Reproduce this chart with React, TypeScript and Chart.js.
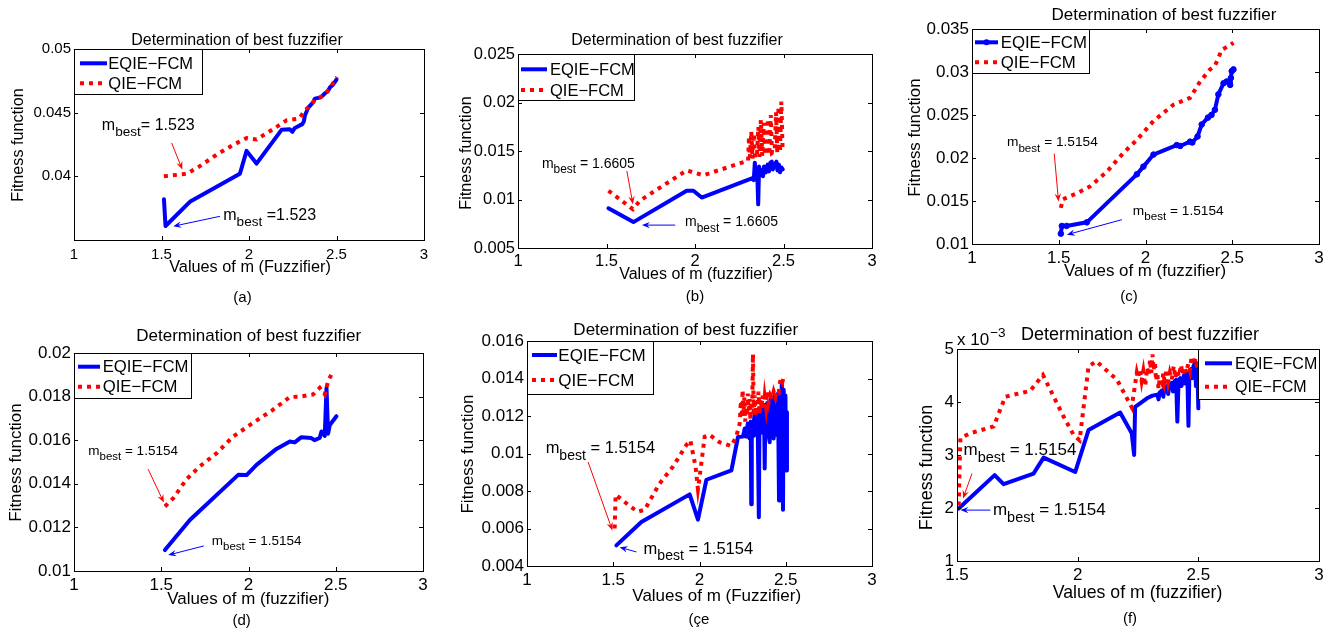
import React, { useEffect, useRef } from "react";
import { Chart, registerables } from "chart.js";

Chart.register(...registerables);

const W = 1340;
const H = 635;
const YW = 60;
const XH = 30;
const FONT = '"Liberation Sans", Arial, Helvetica, sans-serif';
const BLUE = "#0000ff";
const RED = "#ff0000";
const SERIES_LABELS = ["EQIE\u2212FCM", "QIE\u2212FCM"];
const TITLE = "Determination of best fuzzifier";
const Y_LABEL = "Fitness function";

// ---------- Panel (a) ----------
const aEqX = [1.514, 1.523, 1.662, 1.948, 1.986, 2.043, 2.186, 2.233, 2.248, 2.262, 2.29, 2.305, 2.313, 2.32, 2.339, 2.366, 2.376, 2.41, 2.433, 2.451, 2.463, 2.48, 2.5];
const aEqY = [0.0382, 0.0361, 0.038, 0.0402, 0.042, 0.041, 0.04365, 0.0437, 0.0435, 0.0438, 0.044, 0.0441, 0.0443, 0.0448, 0.0454, 0.0458, 0.0461, 0.0462, 0.0465, 0.0467, 0.047, 0.0472, 0.0476];
const aQiX = [1.514, 1.643, 1.719, 1.815, 1.91, 1.986, 2.043, 2.138, 2.214, 2.272, 2.29, 2.32, 2.347, 2.376, 2.433, 2.461, 2.503];
const aQiY = [0.04, 0.0402, 0.0408, 0.0417, 0.04247, 0.043, 0.0429, 0.0437, 0.0444, 0.0445, 0.0446, 0.0452, 0.0455, 0.046, 0.0464, 0.0469, 0.0478];
const aXTicks = [1, 1.5, 2, 2.5, 3];
const aYTicks = [0.04, 0.045, 0.05];

// ---------- Panel (b) ----------
const bEqX = [1.511, 1.652, 1.953, 1.991, 2.038, 2.31, 2.325, 2.332, 2.338, 2.344, 2.352, 2.357, 2.362, 2.37, 2.378, 2.384, 2.39, 2.4, 2.41, 2.418, 2.426, 2.434, 2.44, 2.45, 2.46, 2.466, 2.474, 2.48, 2.488, 2.496];
const bEqY = [0.0091, 0.00767, 0.0109, 0.0109, 0.0102, 0.0121, 0.0122, 0.012, 0.0138, 0.0123, 0.0126, 0.0095, 0.0134, 0.0125, 0.013, 0.0124, 0.0134, 0.0128, 0.0136, 0.0129, 0.0138, 0.0139, 0.0131, 0.0136, 0.0139, 0.013, 0.0136, 0.0128, 0.0133, 0.0131];
const bQiX = [1.511, 1.649, 1.69, 1.953, 2.047, 2.3, 2.305, 2.31, 2.318, 2.325, 2.333, 2.34, 2.35, 2.358, 2.364, 2.372, 2.38, 2.388, 2.395, 2.405, 2.412, 2.42, 2.428, 2.435, 2.45, 2.458, 2.465, 2.472, 2.48, 2.488, 2.495];
const bQiY = [0.0109, 0.009, 0.0099, 0.013, 0.0125, 0.014, 0.0165, 0.0143, 0.017, 0.0142, 0.0168, 0.0143, 0.0145, 0.0175, 0.0144, 0.0182, 0.0145, 0.0179, 0.0146, 0.015, 0.0183, 0.0146, 0.0187, 0.0148, 0.015, 0.019, 0.0148, 0.0196, 0.0149, 0.0201, 0.015];
const bXTicks = [1, 1.5, 2, 2.5, 3];
const bYTicks = [0.005, 0.01, 0.015, 0.02, 0.025];

// ---------- Panel (c) ----------
const cEqX = [1.512, 1.518, 1.545, 1.662, 1.95, 1.988, 2.046, 2.18, 2.2, 2.257, 2.27, 2.3, 2.324, 2.36, 2.38, 2.4, 2.42, 2.45, 2.468, 2.488, 2.492, 2.497, 2.507];
const cEqY = [0.0112, 0.0121, 0.0121, 0.01252, 0.0181, 0.019, 0.0204, 0.0215, 0.0214, 0.0219, 0.0218, 0.0225, 0.0239, 0.0247, 0.025, 0.0256, 0.0274, 0.0287, 0.0289, 0.0285, 0.0293, 0.0301, 0.0303];
const cQiX = [1.512, 1.524, 1.605, 1.681, 1.777, 1.873, 1.95, 2.046, 2.161, 2.257, 2.315, 2.372, 2.4, 2.44, 2.478, 2.507];
const cQiY = [0.0142, 0.0152, 0.0159, 0.0167, 0.0184, 0.0206, 0.0221, 0.0243, 0.0262, 0.027, 0.0289, 0.0303, 0.0307, 0.0326, 0.033, 0.0334];
const cXTicks = [1, 1.5, 2, 2.5, 3];
const cYTicks = [0.01, 0.015, 0.02, 0.025, 0.03, 0.035];

// ---------- Panel (d) ----------
const dEqX = [1.521, 1.664, 1.941, 1.989, 2.046, 2.16, 2.237, 2.265, 2.303, 2.36, 2.378, 2.408, 2.418, 2.437, 2.447, 2.456, 2.466, 2.504];
const dEqY = [0.01096, 0.01234, 0.01441, 0.0144, 0.01487, 0.0156, 0.01594, 0.0159, 0.01614, 0.0161, 0.016, 0.0161, 0.0164, 0.0162, 0.01839, 0.0163, 0.0167, 0.0171];
const dQiX = [1.521, 1.569, 1.645, 1.721, 1.817, 1.912, 2.027, 2.141, 2.237, 2.294, 2.37, 2.408, 2.437, 2.456, 2.48];
const dQiY = [0.01296, 0.01334, 0.01421, 0.0148, 0.0154, 0.01617, 0.0168, 0.0174, 0.01798, 0.018, 0.0181, 0.0184, 0.0181, 0.0187, 0.0191];
const dXTicks = [1, 1.5, 2, 2.5, 3];
const dYTicks = [0.01, 0.012, 0.014, 0.016, 0.018, 0.02];

// ---------- Panel (e) ----------
const eEqX = [1.518, 1.663, 1.943, 1.991, 2.04, 2.185, 2.223, 2.252, 2.262, 2.27, 2.28, 2.29, 2.297, 2.3, 2.303, 2.31, 2.318, 2.325, 2.332, 2.338, 2.344, 2.348, 2.355, 2.362, 2.368, 2.374, 2.378, 2.382, 2.388, 2.394, 2.4, 2.407, 2.412, 2.418, 2.424, 2.43, 2.436, 2.442, 2.448, 2.455, 2.461, 2.466, 2.472, 2.477, 2.481, 2.484, 2.488, 2.493, 2.498, 2.503, 2.507];
const eEqY = [0.0051, 0.00635, 0.00782, 0.00647, 0.0086, 0.0091, 0.01088, 0.0109, 0.01133, 0.0109, 0.0116, 0.0108, 0.0117, 0.0073, 0.0117, 0.0109, 0.012, 0.011, 0.0121, 0.0111, 0.0066, 0.0122, 0.0112, 0.0124, 0.0111, 0.0125, 0.0092, 0.0126, 0.0112, 0.0127, 0.011, 0.0106, 0.0129, 0.0113, 0.013, 0.0108, 0.0131, 0.011, 0.0128, 0.0132, 0.0075, 0.0133, 0.0112, 0.0138, 0.012, 0.007, 0.0134, 0.0112, 0.0131, 0.0091, 0.0122];
const eQiX = [1.508, 1.514, 1.595, 1.643, 1.682, 1.769, 1.846, 1.923, 1.947, 1.977, 1.991, 2.0, 2.03, 2.058, 2.116, 2.185, 2.213, 2.233, 2.24, 2.245, 2.25, 2.255, 2.26, 2.265, 2.27, 2.275, 2.28, 2.285, 2.29, 2.295, 2.3, 2.305, 2.31, 2.314, 2.32, 2.325, 2.33, 2.336, 2.342, 2.348, 2.355, 2.36, 2.366, 2.372, 2.378, 2.385, 2.392, 2.4, 2.41, 2.42, 2.43, 2.44, 2.45, 2.46, 2.47, 2.48, 2.49, 2.5];
const eQiY = [0.006, 0.0078, 0.0072, 0.0069, 0.007, 0.0084, 0.0093, 0.01044, 0.0107, 0.0093, 0.0081, 0.0087, 0.0109, 0.011, 0.0106, 0.0104, 0.0109, 0.0116, 0.0128, 0.0119, 0.0134, 0.0121, 0.013, 0.0117, 0.0127, 0.012, 0.0132, 0.0123, 0.0129, 0.0118, 0.0126, 0.0121, 0.0153, 0.0122, 0.0131, 0.012, 0.0128, 0.0123, 0.0133, 0.0121, 0.0129, 0.0124, 0.0131, 0.0123, 0.013, 0.0125, 0.0133, 0.0127, 0.0131, 0.0129, 0.0133, 0.013, 0.0134, 0.0133, 0.014, 0.0138, 0.0141, 0.014];
const eXTicks = [1, 1.5, 2, 2.5, 3];
const eYTicks = [0.004, 0.006, 0.008, 0.01, 0.012, 0.014, 0.016];

// ---------- Panel (f) (values in units of 1e-3) ----------
const fEqX = [1.507, 1.656, 1.693, 1.817, 1.859, 1.99, 2.045, 2.176, 2.224, 2.234, 2.238, 2.26, 2.287, 2.31, 2.33, 2.335, 2.34, 2.35, 2.355, 2.36, 2.37, 2.375, 2.38, 2.39, 2.395, 2.4, 2.408, 2.413, 2.418, 2.425, 2.43, 2.44, 2.445, 2.45, 2.455, 2.459, 2.463, 2.47, 2.475, 2.48, 2.487, 2.49, 2.496, 2.5];
const fEqY = [1.99, 2.62, 2.45, 2.65, 2.95, 2.68, 3.47, 3.8, 3.41, 3.0, 3.91, 3.98, 4.07, 4.12, 4.14, 4.05, 4.18, 4.22, 4.1, 4.28, 4.3, 4.15, 4.33, 4.36, 4.2, 4.38, 4.42, 3.63, 4.4, 4.45, 4.3, 4.5, 4.35, 4.55, 4.4, 3.55, 4.58, 4.62, 4.45, 4.68, 4.75, 4.3, 4.7, 3.88];
const fQiX = [1.507, 1.514, 1.555, 1.652, 1.7, 1.803, 1.856, 1.941, 1.983, 2.008, 2.045, 2.077, 2.163, 2.224, 2.245, 2.25, 2.258, 2.265, 2.272, 2.28, 2.288, 2.295, 2.3, 2.305, 2.31, 2.315, 2.32, 2.325, 2.33, 2.335, 2.34, 2.35, 2.355, 2.36, 2.368, 2.375, 2.382, 2.39, 2.398, 2.405, 2.412, 2.42, 2.428, 2.435, 2.442, 2.45, 2.458, 2.465, 2.472, 2.48, 2.488, 2.495, 2.5];
const fQiY = [2.05, 3.32, 3.41, 3.54, 4.1, 4.21, 4.51, 3.73, 3.38, 3.28, 4.67, 4.77, 4.42, 3.9, 4.55, 4.45, 4.62, 4.4, 4.58, 4.3, 4.65, 4.5, 4.8, 4.55, 4.9, 4.6, 4.75, 4.4, 4.55, 4.25, 4.45, 4.35, 4.55, 4.4, 4.62, 4.38, 4.55, 4.42, 4.68, 4.45, 4.6, 4.48, 4.7, 4.52, 4.66, 4.55, 4.72, 4.6, 4.86, 4.7, 4.82, 4.65, 4.75];
const fXTicks = [1.5, 2, 2.5, 3];
const fYTicks = [1, 2, 3, 4, 5];

const fmt = (v: number) => String(parseFloat(Number(v).toFixed(6)));

const panels: any[] = [
  {
    key: "a", L: 74, T: 49, R: 424, B: 240,
    xRange: [1, 3], yRange: [0.035, 0.05], xTicks: aXTicks, yTicks: aYTicks,
    eq: [aEqX, aEqY], qi: [aQiX, aQiY],
    tickSize: 15, xTickPad: 6,
    title: { x: 237, y: 41, size: 16 },
    xLabel: { text: "Values of m (Fuzzifier)", x: 250, y: 268, size: 16.3 },
    yLabel: { x: 18.5, y: 145, size: 16.2 },
    caption: { text: "(a)", x: 242.5, y: 298, size: 15 },
    legend: { box: [74, 49, 202, 94], rows: [63.3, 83.3], sample: [80, 107], textX: 108.3, size: 16.5 },
    annSize: 16,
    ann: [
      { color: RED, label: [1.159, 0.04367], tail: [1.558, 0.04262], tip: [1.619, 0.04053], rest: "= 1.523" },
      { color: BLUE, label: [1.853, 0.0366], tail: [1.834, 0.03686], tip: [1.567, 0.03608], rest: " =1.523" },
    ],
  },
  {
    key: "b", L: 518, T: 54, R: 872, B: 248,
    xRange: [1, 3], yRange: [0.005, 0.025], xTicks: bXTicks, yTicks: bYTicks,
    eq: [bEqX, bEqY], qi: [bQiX, bQiY],
    tickSize: 16.5, xTickPad: 4,
    title: { x: 677, y: 41, size: 16 },
    xLabel: { text: "Values of m (fuzzifier)", x: 696, y: 275, size: 16 },
    yLabel: { x: 466.7, y: 153, size: 16.2 },
    caption: { text: "(b)", x: 695, y: 297, size: 15 },
    legend: { box: [518, 54, 634, 100], rows: [69.3, 90], sample: [521, 547], textX: 550, size: 16.5 },
    annSize: 14,
    ann: [
      { color: RED, label: [1.135, 0.01329], tail: [1.615, 0.01294], tip: [1.649, 0.00952], rest: " = 1.6605" },
      { color: BLUE, label: [1.944, 0.00723], tail: [1.888, 0.00736], tip: [1.7, 0.00736], rest: " = 1.6605" },
    ],
  },
  {
    key: "c", L: 972, T: 29, R: 1319, B: 244,
    xRange: [1, 3], yRange: [0.01, 0.035], xTicks: cXTicks, yTicks: cYTicks,
    eq: [cEqX, cEqY], qi: [cQiX, cQiY], eqMarkers: true,
    tickSize: 17, xTickPad: 4,
    title: { x: 1164, y: 15, size: 17 },
    xLabel: { text: "Values of m (fuzzifier)", x: 1145, y: 271.7, size: 16.9 },
    yLabel: { x: 915, y: 137.5, size: 16.9 },
    caption: { text: "(c)", x: 1129, y: 296.7, size: 15 },
    legend: { box: [972, 29, 1089, 73], rows: [42.3, 62.3], sample: [975, 998], textX: 1000.7, size: 16.8 },
    annSize: 13.7,
    ann: [
      { color: RED, label: [1.2016, 0.02135], tail: [1.474, 0.0205], tip: [1.4987, 0.01495], rest: " = 1.5154" },
      { color: BLUE, label: [1.927, 0.01341], tail: [1.864, 0.01283], tip: [1.547, 0.01108], rest: " = 1.5154" },
    ],
  },
  {
    key: "d", L: 74, T: 353, R: 423, B: 571,
    xRange: [1, 3], yRange: [0.01, 0.02], xTicks: dXTicks, yTicks: dYTicks,
    eq: [dEqX, dEqY], qi: [dQiX, dQiY],
    tickSize: 17, xTickPad: 4,
    title: { x: 248.7, y: 336, size: 17 },
    xLabel: { text: "Values of m (fuzzifier)", x: 248.3, y: 599, size: 16.9 },
    yLabel: { x: 16.7, y: 462.5, size: 16.9 },
    caption: { text: "(d)", x: 241.7, y: 620.8, size: 15 },
    legend: { box: [74, 353, 191, 398], rows: [366.7, 386.7], sample: [78, 100], textX: 102.7, size: 16.7 },
    annSize: 13.5,
    ann: [
      { color: RED, label: [1.082, 0.01533], tail: [1.425, 0.01467], tip: [1.515, 0.01314], rest: " = 1.5154" },
      { color: BLUE, label: [1.79, 0.01119], tail: [1.744, 0.01115], tip: [1.54, 0.01073], rest: " = 1.5154" },
    ],
  },
  {
    key: "e", L: 527, T: 341, R: 872, B: 566,
    xRange: [1, 3], yRange: [0.004, 0.016], xTicks: eXTicks, yTicks: eYTicks,
    eq: [eEqX, eEqY], qi: [eQiX, eQiY],
    tickSize: 17, xTickPad: 4,
    title: { x: 685.8, y: 330, size: 17 },
    xLabel: { text: "Values of m (Fuzzifier)", x: 716.7, y: 596.5, size: 17 },
    yLabel: { x: 468, y: 454, size: 17 },
    caption: { text: "(\u00e7e", x: 699, y: 620, size: 15 },
    legend: { box: [527, 341, 653, 394], rows: [355, 380], sample: [532, 557], textX: 558.3, size: 17 },
    annSize: 16.5,
    ann: [
      { color: RED, label: [1.108, 0.01003], tail: [1.354, 0.00955], tip: [1.495, 0.0059], rest: " = 1.5154" },
      { color: BLUE, label: [1.676, 0.00466], tail: [1.634, 0.00475], tip: [1.537, 0.005], rest: " = 1.5154" },
    ],
  },
  {
    key: "f", L: 957, T: 349, R: 1319, B: 561,
    xRange: [1.5, 3], yRange: [1, 5], xTicks: fXTicks, yTicks: fYTicks,
    eq: [fEqX, fEqY], qi: [fQiX, fQiY],
    tickSize: 17, xTickPad: 4,
    title: { x: 1140, y: 335, size: 18 },
    xLabel: { text: "Values of m (fuzzifier)", x: 1137.5, y: 593.3, size: 17.7 },
    yLabel: { x: 926.7, y: 467.5, size: 17.9 },
    caption: { text: "(f)", x: 1130, y: 619, size: 15 },
    legend: { box: [1198, 349, 1319, 399], rows: [363.3, 386.7], sample: [1205, 1232], textX: 1235, size: 16 },
    exponent: { x: 957, y: 345, size: 17 },
    annSize: 17,
    ann: [
      { color: RED, label: [1.527, 3.0], tail: [1.562, 2.65], tip: [1.525, 2.18], rest: " = 1.5154" },
      { color: BLUE, label: [1.649, 1.865], tail: [1.638, 1.96], tip: [1.514, 1.96], rest: " = 1.5154" },
    ],
  },
];

function drawArrow(ctx: CanvasRenderingContext2D, x0: number, y0: number, x1: number, y1: number, color: string) {
  const ang = Math.atan2(y1 - y0, x1 - x0);
  const hl = 8;
  const hw = 3.2;
  const cx = Math.cos(ang);
  const sn = Math.sin(ang);
  ctx.strokeStyle = color;
  ctx.fillStyle = color;
  ctx.lineWidth = 1;
  ctx.setLineDash([]);
  ctx.beginPath();
  ctx.moveTo(x0, y0);
  ctx.lineTo(x1 - cx * hl * 0.6, y1 - sn * hl * 0.6);
  ctx.stroke();
  ctx.beginPath();
  ctx.moveTo(x1, y1);
  ctx.lineTo(x1 - cx * hl - sn * hw, y1 - sn * hl + cx * hw);
  ctx.lineTo(x1 - cx * hl * 0.65, y1 - sn * hl * 0.65);
  ctx.lineTo(x1 - cx * hl + sn * hw, y1 - sn * hl - cx * hw);
  ctx.closePath();
  ctx.fill();
}

function drawMbest(ctx: CanvasRenderingContext2D, x: number, y: number, rest: string, size: number) {
  ctx.fillStyle = "#000";
  ctx.textAlign = "left";
  ctx.textBaseline = "alphabetic";
  ctx.font = `${size}px ${FONT}`;
  ctx.fillText("m", x, y);
  const wm = ctx.measureText("m").width;
  const sub = size * 0.85;
  ctx.font = `${sub}px ${FONT}`;
  ctx.fillText("best", x + wm, y + size * 0.4);
  const wb = ctx.measureText("best").width;
  ctx.font = `${size}px ${FONT}`;
  ctx.fillText(rest, x + wm + wb, y);
}

function makeDecor(p: any) {
  return {
    id: "decor_" + p.key,
    afterDatasetsDraw(chart: any) {
      const ctx: CanvasRenderingContext2D = chart.ctx;
      const sx = chart.scales.x;
      const sy = chart.scales.y;
      const { left, right, top, bottom } = chart.chartArea;
      const X = (v: number) => sx.getPixelForValue(v);
      const Y = (v: number) => sy.getPixelForValue(v);
      ctx.save();

      for (const a of p.ann) {
        drawArrow(ctx, X(a.tail[0]), Y(a.tail[1]), X(a.tip[0]), Y(a.tip[1]), a.color);
        drawMbest(ctx, X(a.label[0]), Y(a.label[1]), a.rest, p.annSize);
      }

      ctx.strokeStyle = "#000";
      ctx.lineWidth = 1;
      ctx.setLineDash([]);
      ctx.strokeRect(left + 0.5, top + 0.5, right - left, bottom - top);
      const tl = 4;
      ctx.beginPath();
      for (const v of p.yTicks) {
        const yy = Math.round(Y(v)) + 0.5;
        ctx.moveTo(left, yy);
        ctx.lineTo(left + tl, yy);
        ctx.moveTo(right, yy);
        ctx.lineTo(right - tl, yy);
      }
      for (const v of p.xTicks) {
        const xx = Math.round(X(v)) + 0.5;
        ctx.moveTo(xx, bottom);
        ctx.lineTo(xx, bottom - tl);
        ctx.moveTo(xx, top);
        ctx.lineTo(xx, top + tl);
      }
      ctx.stroke();

      const lg = p.legend;
      const [bx0, by0, bx1, by1] = lg.box;
      ctx.fillStyle = "#fff";
      ctx.fillRect(bx0, by0, bx1 - bx0, by1 - by0);
      ctx.strokeStyle = "#000";
      ctx.lineWidth = 1;
      ctx.strokeRect(bx0 + 0.5, by0 + 0.5, bx1 - bx0, by1 - by0);
      const colors = [BLUE, RED];
      for (let i = 0; i < 2; i++) {
        const ry = lg.rows[i];
        ctx.strokeStyle = colors[i];
        ctx.lineWidth = 4;
        ctx.lineCap = "butt";
        ctx.setLineDash(i === 1 ? [4, 5] : []);
        ctx.beginPath();
        ctx.moveTo(lg.sample[0], ry);
        ctx.lineTo(lg.sample[1], ry);
        ctx.stroke();
        ctx.setLineDash([]);
        if (i === 0 && p.eqMarkers) {
          ctx.fillStyle = BLUE;
          ctx.beginPath();
          ctx.arc((lg.sample[0] + lg.sample[1]) / 2, ry, 3, 0, Math.PI * 2);
          ctx.fill();
        }
        ctx.fillStyle = "#000";
        ctx.font = `${lg.size}px ${FONT}`;
        ctx.textAlign = "left";
        ctx.textBaseline = "middle";
        ctx.fillText(SERIES_LABELS[i], lg.textX, ry + 1);
      }

      ctx.fillStyle = "#000";
      ctx.textAlign = "center";
      ctx.textBaseline = "middle";
      ctx.font = `${p.title.size}px ${FONT}`;
      ctx.fillText(TITLE, p.title.x, p.title.y);
      ctx.font = `${p.xLabel.size}px ${FONT}`;
      ctx.fillText(p.xLabel.text, p.xLabel.x, p.xLabel.y);
      ctx.font = `${p.caption.size}px ${FONT}`;
      ctx.fillText(p.caption.text, p.caption.x, p.caption.y);
      ctx.save();
      ctx.translate(p.yLabel.x, p.yLabel.y);
      ctx.rotate(-Math.PI / 2);
      ctx.font = `${p.yLabel.size}px ${FONT}`;
      ctx.fillText(Y_LABEL, 0, 0);
      ctx.restore();

      if (p.exponent) {
        const e = p.exponent;
        ctx.textAlign = "left";
        ctx.textBaseline = "alphabetic";
        ctx.font = `${e.size}px ${FONT}`;
        ctx.fillText("x 10", e.x, e.y);
        const w = ctx.measureText("x 10").width;
        ctx.font = `${e.size * 0.8}px ${FONT}`;
        ctx.fillText("\u22123", e.x + w + 1, e.y - e.size * 0.45);
      }
      ctx.restore();
    },
  };
}

function Panel({ p }: { p: any }) {
  const ref = useRef<HTMLCanvasElement>(null);
  useEffect(() => {
    const canvas = ref.current;
    if (!canvas) return;
    const pts = (xs: number[], ys: number[]) => xs.map((x, i) => ({ x, y: ys[i] }));
    const chart = new Chart(canvas, {
      type: "line",
      data: {
        datasets: [
          {
            label: SERIES_LABELS[0],
            data: pts(p.eq[0], p.eq[1]),
            borderColor: BLUE,
            backgroundColor: BLUE,
            borderWidth: 4,
            borderJoinStyle: "round",
            borderCapStyle: "round",
            pointRadius: p.eqMarkers ? 2.8 : 0,
            pointBackgroundColor: BLUE,
            pointBorderColor: BLUE,
            pointBorderWidth: 1,
            tension: 0,
            fill: false,
            order: 1,
          },
          {
            label: SERIES_LABELS[1],
            data: pts(p.qi[0], p.qi[1]),
            borderColor: RED,
            backgroundColor: RED,
            borderWidth: 4,
            borderDash: [4, 5],
            borderCapStyle: "butt",
            borderJoinStyle: "miter",
            pointRadius: 0,
            tension: 0,
            fill: false,
            order: 0,
          },
        ],
      } as any,
      options: {
        responsive: false,
        maintainAspectRatio: false,
        animation: false,
        events: [],
        devicePixelRatio: 1,
        layout: {
          padding: { left: p.L - YW, top: p.T, right: W - p.R, bottom: H - p.B - XH },
        },
        plugins: {
          legend: { display: false },
          tooltip: { enabled: false },
          title: { display: false },
        },
        scales: {
          x: {
            type: "linear",
            min: p.xRange[0],
            max: p.xRange[1],
            grid: { display: false, drawTicks: false, tickLength: 0 },
            border: { display: false },
            afterFit: (s: any) => {
              s.height = XH;
            },
            afterBuildTicks: (s: any) => {
              s.ticks = p.xTicks.map((v: number) => ({ value: v }));
            },
            ticks: {
              color: "#000",
              font: { family: FONT, size: p.tickSize },
              padding: p.xTickPad,
              maxRotation: 0,
              autoSkip: false,
              callback: (v: any) => fmt(v),
            },
          },
          y: {
            type: "linear",
            min: p.yRange[0],
            max: p.yRange[1],
            grid: { display: false, drawTicks: false, tickLength: 0 },
            border: { display: false },
            afterFit: (s: any) => {
              s.width = YW;
            },
            afterBuildTicks: (s: any) => {
              s.ticks = p.yTicks.map((v: number) => ({ value: v }));
            },
            ticks: {
              color: "#000",
              font: { family: FONT, size: p.tickSize },
              padding: 3,
              autoSkip: false,
              callback: (v: any) => fmt(v),
            },
          },
        },
      } as any,
      plugins: [makeDecor(p)],
    });
    return () => chart.destroy();
  }, []);
  return (
    <canvas
      ref={ref}
      width={W}
      height={H}
      style={{ position: "absolute", left: 0, top: 0, width: W, height: H }}
    />
  );
}

export default function App() {
  return (
    <div style={{ position: "absolute", left: 0, top: 0, width: W, height: H, background: "#fff" }}>
      {panels.map((p) => (
        <Panel key={p.key} p={p} />
      ))}
    </div>
  );
}
